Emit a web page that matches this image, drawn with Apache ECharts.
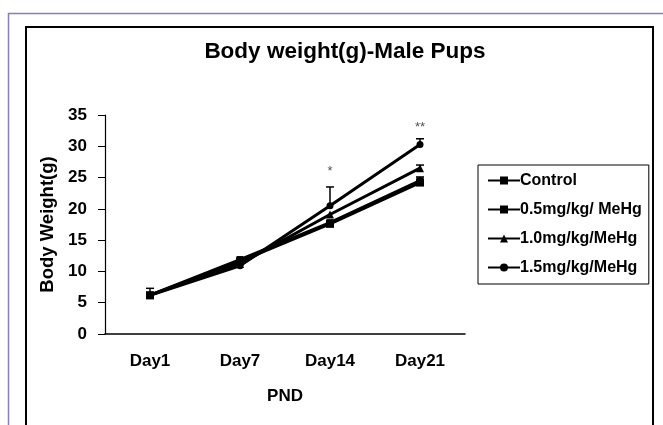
<!DOCTYPE html>
<html><head><meta charset="utf-8">
<script src="https://cdn.jsdelivr.net/npm/echarts@6/dist/echarts.min.js"></script>
<style>html,body{margin:0;padding:0;background:#fff}#c{width:663px;height:425px}</style>
</head><body><div id="c"></div>
<script>
var categories = ['Day1', 'Day7', 'Day14', 'Day21'];
var seriesNames = ['Control', '0.5mg/kg/ MeHg', '1.0mg/kg/MeHg', '1.5mg/kg/MeHg'];
var control = [6.2, 11.6, 17.6, 24.2];
var dose05 = [6.2, 11.9, 17.8, 24.5];
var dose10 = [6.2, 11.2, 19.1, 26.5];
var dose15 = [6.2, 10.9, 20.5, 30.3];
// upper error-bar ends (null = not visible)
var controlErr = [7.3, null, null, 25.1];
var dose05Err = [null, null, null, null];
var dose10Err = [null, null, null, 27.0];
var dose15Err = [null, null, 23.5, 31.2];
var sigMarks = ['', '', '*', '**'];
var sigLevel = [0, 0, 26.0, 33.0];
var yTicks = [0, 5, 10, 15, 20, 25, 30, 35];

var values = [control, dose05, dose10, dose15];
var errs = [controlErr, dose05Err, dose10Err, dose15Err];
var symbols = ['rect', 'rect', 'triangle', 'circle'];
var symSizes = [8, 7, 8, 7];
var FONT = 'Liberation Sans, Arial';

var chart = echarts.init(document.getElementById('c'));
var series = [];
values.forEach(function (v, i) {
  series.push({
    name: seriesNames[i], type: 'line', data: v,
    symbol: symbols[i], symbolSize: symSizes[i],
    lineStyle: { color: '#000', width: 3 },
    itemStyle: { color: '#000' }, z: 3
  });
});
errs.forEach(function (e, i) {
  var d = [];
  e.forEach(function (top, j) { if (top != null) d.push([j, values[i][j], top]); });
  series.push({
    type: 'custom', silent: true, z: 2,
    renderItem: function (params, api) {
      var base = api.coord([api.value(0), api.value(1)]);
      var top = api.coord([api.value(0), api.value(2)]);
      return { type: 'group', children: [
        { type: 'line', shape: { x1: base[0], y1: base[1], x2: top[0], y2: top[1] }, style: { stroke: '#000', lineWidth: 1.5 } },
        { type: 'line', shape: { x1: top[0] - 4, y1: top[1], x2: top[0] + 4, y2: top[1] }, style: { stroke: '#000', lineWidth: 1.5 } }
      ]};
    },
    data: d
  });
});
series.push({
  type: 'scatter', symbolSize: 0, silent: true,
  data: sigMarks.map(function (m, j) { return { value: [j, sigLevel[j]], label: { show: m !== '', formatter: m } }; }),
  label: { position: 'inside', color: '#222', fontSize: 13, fontFamily: FONT }
});

chart.setOption({
  animation: false,
  backgroundColor: '#fff',
  title: {
    text: 'Body weight(g)-Male Pups', left: 340, top: 35, textAlign: 'center',
    textStyle: { fontFamily: FONT, fontWeight: 'bold', fontSize: 22.5, color: '#000' }
  },
  legend: {
    orient: 'vertical', left: 478, top: 165, itemGap: 12,
    data: seriesNames, itemWidth: 32, itemHeight: 10,
    borderColor: '#000', borderWidth: 1, padding: [7, 7, 8, 9],
    textStyle: { fontFamily: FONT, fontWeight: 'bold', fontSize: 16, lineHeight: 17, color: '#000', padding: [0, 0, 0, -5] }
  },
  grid: { left: 105, right: 198, top: 115, bottom: 91 },
  xAxis: {
    type: 'category', data: categories, boundaryGap: true,
    name: 'PND', nameLocation: 'middle', nameGap: 54,
    nameTextStyle: { fontFamily: FONT, fontWeight: 'bold', fontSize: 17, color: '#000' },
    axisLine: { lineStyle: { color: '#000', width: 1.5 } },
    axisTick: { alignWithLabel: false, length: 5, lineStyle: { color: '#000' } },
    axisLabel: { margin: 19, color: '#000', fontFamily: FONT, fontWeight: 'bold', fontSize: 17 },
    splitLine: { show: false }
  },
  yAxis: {
    type: 'value', min: yTicks[0], max: yTicks[yTicks.length - 1], interval: 5,
    name: 'Body Weight(g)', nameLocation: 'middle', nameGap: 44,
    nameTextStyle: { fontFamily: FONT, fontWeight: 'bold', fontSize: 18.5, color: '#000' },
    axisLine: { show: true, lineStyle: { color: '#000', width: 1.2 } },
    axisTick: { show: true, length: 7, lineStyle: { color: '#000' } },
    axisLabel: { margin: 18, color: '#000', fontFamily: FONT, fontWeight: 'bold', fontSize: 17 },
    splitLine: { show: false }
  },
  graphic: [
    { type: 'polyline', shape: { points: [[8.5, 425], [8.5, 13.5], [663, 13.5]] }, style: { stroke: '#8b7bc0', lineWidth: 1.5, fill: null }, silent: true },
    { type: 'rect', shape: { x: 26, y: 27, width: 627, height: 420 }, style: { stroke: '#000', lineWidth: 2, fill: null }, silent: true, z: -1 }
  ],
  series: series
});
</script></body></html>
